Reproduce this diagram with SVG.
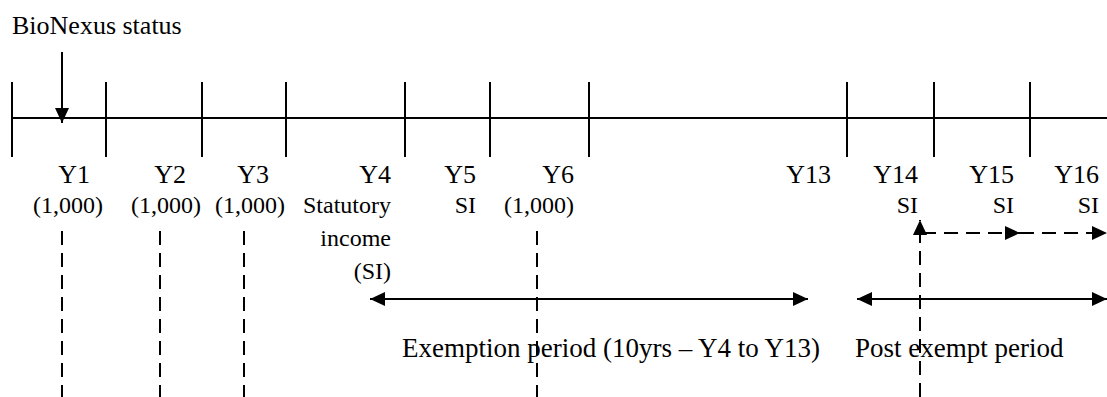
<svg xmlns="http://www.w3.org/2000/svg" width="1107" height="397" viewBox="0 0 1107 397">
<style>
text{font-family:"Liberation Serif","Times New Roman",serif;fill:#000}
.t{font-size:26px}
.b{font-size:27px}
.y{font-size:26px;text-anchor:end}
.v{font-size:24px;text-anchor:end}
.solid{stroke:#000;stroke-width:2;fill:none}
.dash{stroke:#000;stroke-width:2;fill:none;stroke-dasharray:14 8}
</style>
<defs>
<marker id="ah" markerUnits="userSpaceOnUse" markerWidth="15" markerHeight="14" refX="15" refY="7" orient="auto-start-reverse">
<path d="M0,0 L15,7 L0,14 Z" style="fill:#000;stroke:none"/>
</marker>
</defs>
<rect width="1107" height="397" fill="#fff"/>
<g id="title"><text class="t" x="12" y="34">BioNexus status</text></g>
<g id="timeline">
<line class="solid" x1="12" y1="118" x2="1107" y2="118"/>
<line class="solid" x1="12" y1="82" x2="12" y2="157"/>
<line class="solid" x1="106" y1="82" x2="106" y2="157"/>
<line class="solid" x1="202" y1="82" x2="202" y2="157"/>
<line class="solid" x1="286" y1="82" x2="286" y2="157"/>
<line class="solid" x1="405" y1="82" x2="405" y2="157"/>
<line class="solid" x1="490" y1="82" x2="490" y2="157"/>
<line class="solid" x1="589" y1="82" x2="589" y2="157"/>
<line class="solid" x1="847" y1="82" x2="847" y2="157"/>
<line class="solid" x1="934" y1="82" x2="934" y2="157"/>
<line class="solid" x1="1030" y1="82" x2="1030" y2="157"/>
</g>
<g id="y1"><text class="y" x="90" y="183">Y1</text><text class="v" x="103" y="213">(1,000)</text></g>
<g id="y2"><text class="y" x="186" y="183">Y2</text><text class="v" x="201" y="213">(1,000)</text></g>
<g id="y3"><text class="y" x="269" y="183">Y3</text><text class="v" x="285" y="213">(1,000)</text></g>
<g id="y4"><text class="y" x="391" y="183">Y4</text><text class="v" x="391" y="213">Statutory</text><text class="v" x="391" y="246">income</text><text class="v" x="391" y="279">(SI)</text></g>
<g id="y5"><text class="y" x="476" y="183">Y5</text><text class="v" x="476" y="213">SI</text></g>
<g id="y6"><text class="y" x="574" y="183">Y6</text><text class="v" x="574" y="213">(1,000)</text></g>
<g id="y13"><text class="y" x="831" y="183">Y13</text></g>
<g id="y14"><text class="y" x="918" y="183">Y14</text><text class="v" x="918" y="213">SI</text></g>
<g id="y15"><text class="y" x="1014" y="183">Y15</text><text class="v" x="1014" y="213">SI</text></g>
<g id="y16"><text class="y" x="1099" y="183">Y16</text><text class="v" x="1099" y="213">SI</text></g>
<g id="exemption"><text class="b" x="820" y="357" text-anchor="end">Exemption period (10yrs – Y4 to Y13)</text></g>
<g id="post-exempt"><text class="b" x="855" y="357">Post exempt period</text></g>
<g id="connectors">
<line class="solid" x1="62" y1="52" x2="62" y2="123" marker-end="url(#ah)"/>
<line class="dash" x1="62" y1="231" x2="62" y2="397"/>
<line class="dash" x1="160" y1="231" x2="160" y2="397"/>
<line class="dash" x1="244" y1="231" x2="244" y2="397"/>
<line class="dash" x1="537" y1="231" x2="537" y2="397"/>
<line class="solid" x1="370" y1="299" x2="808" y2="299" marker-start="url(#ah)" marker-end="url(#ah)"/>
<line class="solid" x1="857" y1="299" x2="1107" y2="299" marker-start="url(#ah)" marker-end="url(#ah)"/>
<line class="dash" x1="920" y1="397" x2="920" y2="220" marker-end="url(#ah)"/>
<line class="dash" x1="922" y1="233" x2="1020" y2="233" marker-end="url(#ah)"/>
<line class="dash" x1="1020" y1="233" x2="1107" y2="233" marker-end="url(#ah)"/>
</g>
</svg>
